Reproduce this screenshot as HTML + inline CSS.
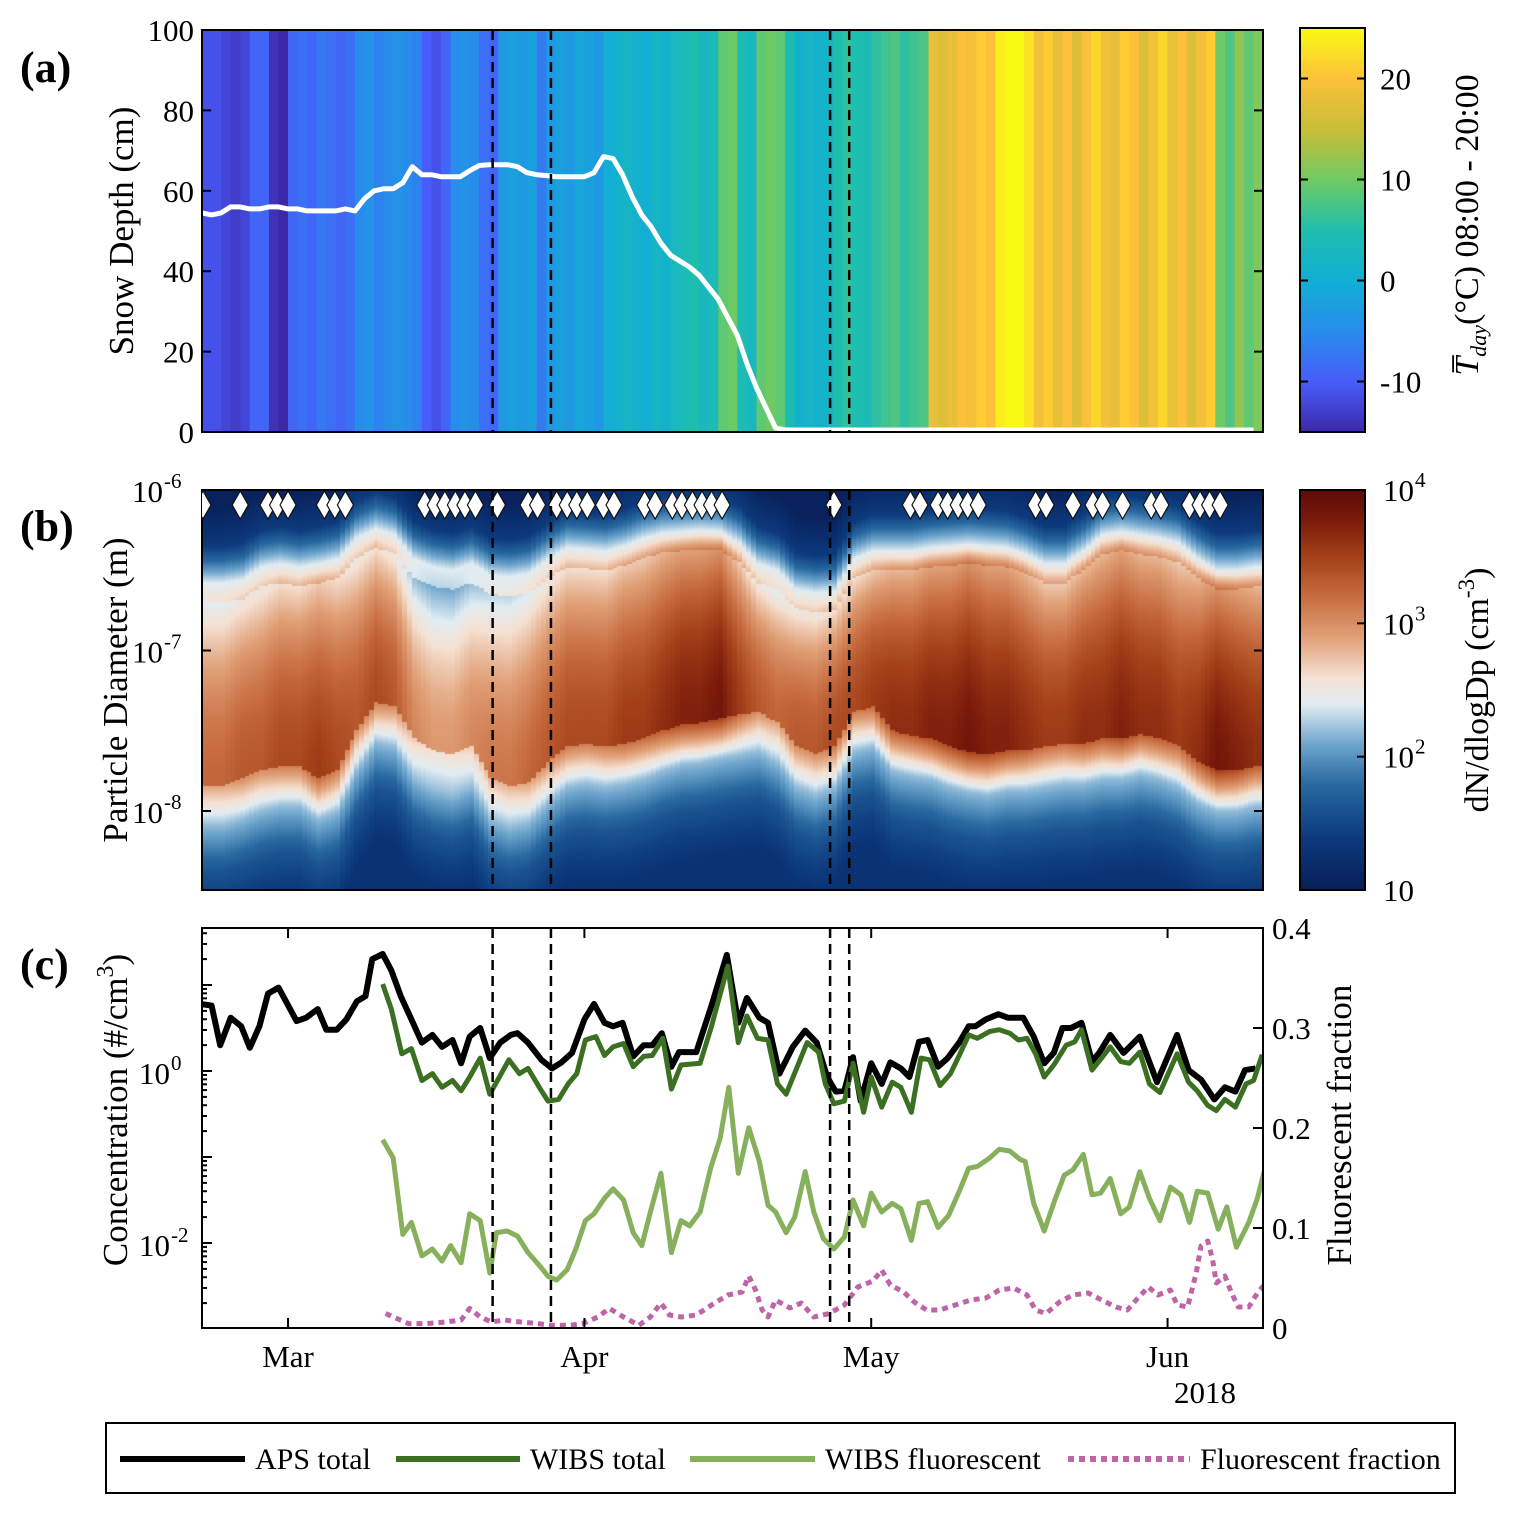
<!DOCTYPE html>
<html><head><meta charset="utf-8">
<style>
html,body{margin:0;padding:0;background:#fff;}
#wrap{position:relative;width:1519px;height:1513px;overflow:hidden;background:#fff;}
#hm{position:absolute;left:202px;top:490px;}
svg{position:absolute;left:0;top:0;}
text{font-family:"Liberation Serif","DejaVu Serif",serif;fill:#000;}
</style></head>
<body>
<div id="wrap">
<canvas id="hm" width="1061" height="400"></canvas>
<svg id="svg" width="1519" height="1513" xmlns="http://www.w3.org/2000/svg">
  <defs>
    <clipPath id="clipA"><rect x="202" y="30" width="1061" height="402"/></clipPath>
    <clipPath id="clipB"><rect x="202" y="490" width="1061" height="400"/></clipPath>
    <clipPath id="clipC"><rect x="202" y="928" width="1061" height="400"/></clipPath>
  </defs>
  <g id="gA"></g>
  <g id="gB"></g>
  <g id="gC"></g>

  <text x="20" y="82" font-size="44" font-weight="bold">(a)</text>
  <text x="20" y="541" font-size="44" font-weight="bold">(b)</text>
  <text x="20" y="979" font-size="44" font-weight="bold">(c)</text>

  <text transform="translate(133,231) rotate(-90)" text-anchor="middle" font-size="35">Snow Depth (cm)</text>
  <text transform="translate(127,690) rotate(-90)" text-anchor="middle" font-size="35">Particle Diameter  (m)</text>
  <text transform="translate(127,1110) rotate(-90)" text-anchor="middle" font-size="35">Concentration (#/cm<tspan dy="-14" font-size="24">3</tspan><tspan dy="14">)</tspan></text>
  <text transform="translate(1351,1125) rotate(-90)" text-anchor="middle" font-size="35">Fluorescent fraction</text>
  <text transform="translate(1478,225) rotate(-90)" text-anchor="middle" font-size="34"><tspan font-style="italic">T&#773;</tspan><tspan font-size="22" font-style="italic" dy="8">day</tspan><tspan dy="-8">(°C) 08:00 - 20:00</tspan></text>
  <text transform="translate(1488,690) rotate(-90)" text-anchor="middle" font-size="34">dN/dlogDp (cm<tspan dy="-14" font-size="23">-3</tspan><tspan dy="14">)</tspan></text>

  <g id="legend">
    <rect x="106" y="1423" width="1349" height="70" fill="#fff" stroke="#000" stroke-width="2"/>
    <line x1="120" y1="1459" x2="245" y2="1459" stroke="#000" stroke-width="6"/>
    <text x="255" y="1469" font-size="30">APS total</text>
    <line x1="396" y1="1459" x2="520" y2="1459" stroke="#3b6f22" stroke-width="6"/>
    <text x="530" y="1469" font-size="30">WIBS total</text>
    <line x1="690" y1="1459" x2="815" y2="1459" stroke="#87b05c" stroke-width="6"/>
    <text x="825" y="1469" font-size="30">WIBS fluorescent</text>
    <line x1="1068" y1="1459" x2="1190" y2="1459" stroke="#c064a8" stroke-width="6" stroke-dasharray="6 5"/>
    <text x="1200" y="1469" font-size="30">Fluorescent fraction</text>
  </g>
</svg>
</div>
<script>
// ---------------- DATA ----------------
// day offsets from 20 Feb 2018
const dailyTemp = [-11,-11,-12,-13,-12,-9,-9,-14,-15,-9,-8,-9,-7,-8,-9,-8,-5,-4,-6,-5,-4,-5,-6,-10,-11,-9,-5,-4,-5,-8,-9,-3,-2,-3,-2,-7,-3,-2,-3,-1,-2,-3,0,1,2,1,0,2,1,3,4,5,3,4,9,10,4,3,9,10,9,4,1,2,1,2,5,6,5,4,6,7,8,6,7,8,18,17,18,20,19,21,20,24,25,25,23,19,21,18,20,17,20,22,19,18,21,20,17,19,22,18,20,17,19,21,10,8,12,9,11];
const snowDepth = [54.5,54,54.5,56,56,55.5,55.5,56,56,55.5,55.5,55,55,55,55,55.5,55,58,60,60.5,60.5,62,66,64,64,63.5,63.5,63.5,65,66.3,66.5,66.5,66.5,66,64.5,64,63.8,63.5,63.5,63.5,63.5,64.5,68.5,68,64,58.5,54,51,47,44,42.5,41,39,36,33,28.5,24,17,11,6,1,0.5,0.5,0.5,0.5,0.5,0.5,0.5,0.5,0.5,0.5,0.5,0.5,0.5,0.5,0.5,0.5,0.5,0.5,0.5,0.5,0.5,0.5,0.5,0.5,0.5,0.5,0.5,0.5,0.5,0.5,0.5,0.5,0.5,0.5,0.5,0.5,0.5,0.5,0.5,0.5,0.5,0.5,0.5,0.5,0.5,0.5,0.5,0.5,0.5,0.5];
const eventDays = [0.1,4,6.9,7.9,9,12.8,13.9,15,23.3,24.4,25.4,26.5,27.5,28.6,30.9,34.1,35.1,37.1,38.2,39.2,40.3,42,43.1,46.3,47.4,49.2,50.2,51.3,52.3,53.3,54.4,66.1,74.1,75.1,77,78,79.1,80.1,81.2,87.2,88.3,91.1,93.2,94.2,96.3,99.3,100.3,103.3,104.4,105.4,106.5];
const markerDays = [30.4,36.5,65.7,67.7];
// size distribution, every 2 days: upper/lower edge of mode (log10 m) and peak log10 dN/dlogDp
const sizeTop = [-6.70,-6.70,-6.68,-6.60,-6.58,-6.60,-6.58,-6.55,-6.42,-6.36,-6.40,-6.55,-6.60,-6.62,-6.58,-6.65,-6.66,-6.64,-6.55,-6.48,-6.49,-6.50,-6.47,-6.42,-6.39,-6.38,-6.37,-6.38,-6.45,-6.58,-6.62,-6.74,-6.76,-6.75,-6.55,-6.50,-6.50,-6.50,-6.48,-6.47,-6.46,-6.47,-6.48,-6.52,-6.58,-6.58,-6.50,-6.40,-6.38,-6.40,-6.42,-6.45,-6.55,-6.62,-6.62,-6.60];
const sizeBot = [-7.84,-7.84,-7.80,-7.75,-7.72,-7.72,-7.80,-7.75,-7.50,-7.32,-7.35,-7.55,-7.62,-7.65,-7.60,-7.80,-7.85,-7.82,-7.70,-7.60,-7.58,-7.60,-7.58,-7.55,-7.50,-7.46,-7.45,-7.42,-7.40,-7.38,-7.45,-7.60,-7.65,-7.60,-7.38,-7.35,-7.50,-7.53,-7.55,-7.60,-7.63,-7.65,-7.62,-7.62,-7.60,-7.58,-7.58,-7.55,-7.55,-7.52,-7.55,-7.60,-7.70,-7.75,-7.75,-7.72];
const sizePeak = [3.2,3.2,3.3,3.3,3.4,3.4,3.5,3.4,3.3,3.4,3.3,3.0,2.9,2.9,3.0,3.1,3.1,3.2,3.3,3.4,3.4,3.4,3.5,3.5,3.6,3.7,3.7,3.8,3.5,3.3,3.2,3.3,3.3,3.4,3.4,3.5,3.6,3.6,3.7,3.7,3.8,3.7,3.7,3.6,3.5,3.5,3.6,3.6,3.7,3.6,3.6,3.5,3.6,3.8,3.7,3.6];
// panel c
const apsDays = [-0.2,1.0,1.9,3.0,4.1,5.0,6.0,6.9,8.0,9.9,10.9,12.1,13.0,14.1,15.1,16.2,17.1,17.8,18.9,19.8,20.8,21.9,23.0,24.1,25.1,26.2,27.1,28.0,29.1,30.1,31.2,32.3,33.0,34.1,35.5,36.6,37.6,38.7,40.0,41.0,42.1,43.0,44.0,45.1,46.2,47.1,48.1,49.1,49.9,51.7,53.3,54.9,56.1,57.0,58.3,59.2,60.4,61.8,63.1,64.3,65.4,66.3,67.2,68.1,68.9,70.0,71.1,72.0,73.1,74.0,75.0,75.9,77.0,78.0,79.2,80.2,80.9,82.0,83.3,84.3,85.9,87.0,88.1,89.1,90.0,90.9,92.0,93.1,93.9,95.0,96.4,98.1,99.9,102.0,103.2,104.5,105.9,107.0,108.1,109.1,110.2];
const apsLog10 = [0.78,0.76,0.30,0.62,0.52,0.27,0.52,0.90,0.97,0.58,0.62,0.72,0.48,0.48,0.60,0.81,0.87,1.30,1.36,1.17,0.87,0.60,0.33,0.42,0.28,0.36,0.09,0.40,0.50,0.15,0.33,0.42,0.44,0.33,0.13,0.03,0.10,0.21,0.60,0.78,0.56,0.52,0.56,0.17,0.30,0.30,0.44,0.05,0.22,0.22,0.76,1.35,0.56,0.85,0.62,0.56,-0.03,0.28,0.47,0.33,-0.07,-0.24,-0.23,0.16,-0.35,0.09,-0.15,0.10,0.03,-0.07,0.34,0.36,0.05,0.15,0.33,0.52,0.52,0.60,0.66,0.62,0.62,0.40,0.09,0.21,0.50,0.50,0.56,0.11,0.22,0.42,0.21,0.40,-0.13,0.42,0.01,-0.10,-0.33,-0.19,-0.24,0.01,0.03];
const wibsDays = [18.9,19.8,20.9,21.9,23.0,24.1,25.1,26.2,27.1,28.0,29.1,30.1,31.2,32.1,33.2,34.1,35.5,36.2,37.3,38.3,39.2,40.1,41.2,42.1,43.0,44.1,45.1,46.2,47.1,48.2,49.1,50.1,52.1,53.3,55.0,56.1,57.0,58.1,59.2,60.2,61.1,63.3,64.5,65.2,66.1,67.2,68.1,69.2,70.0,71.1,72.2,73.1,74.2,75.2,76.1,77.2,78.3,79.2,80.2,81.1,82.4,83.4,84.5,85.4,86.3,87.2,88.1,89.1,90.4,91.3,92.0,93.1,94.1,95.0,96.1,97.0,98.1,99.1,100.2,102.0,103.2,104.1,105.2,106.1,107.0,108.1,109.2,110.0,110.9];
const wibsLog10 = [1.01,0.72,0.20,0.26,-0.11,-0.03,-0.19,-0.11,-0.23,-0.07,0.15,-0.27,-0.05,0.13,-0.03,0.03,-0.23,-0.35,-0.33,-0.15,-0.03,0.36,0.40,0.18,0.28,0.32,0.05,0.17,0.18,0.38,-0.21,0.07,0.09,0.52,1.22,0.33,0.64,0.38,0.36,-0.15,-0.27,0.33,0.22,-0.15,-0.38,-0.35,0.09,-0.48,-0.07,-0.42,-0.13,-0.19,-0.48,0.15,0.13,-0.17,-0.03,0.18,0.42,0.38,0.46,0.48,0.44,0.36,0.38,0.20,-0.07,0.07,0.30,0.34,0.48,0.01,0.15,0.28,0.11,0.09,0.22,-0.15,-0.25,0.20,-0.13,-0.23,-0.40,-0.46,-0.33,-0.42,-0.15,-0.11,0.19];
const fluoDays = [18.9,20.0,21.0,21.9,23.0,24.1,25.1,26.0,27.1,28.0,29.1,30.1,30.8,31.9,33.0,34.1,35.5,36.2,37.1,38.2,39.1,40.1,41.0,42.1,43.0,44.1,45.1,46.0,46.9,48.0,49.1,50.1,51.0,52.1,53.2,54.2,55.1,56.1,57.2,58.3,59.2,60.0,61.1,62.0,63.1,64.0,65.0,66.1,67.2,68.1,69.2,70.0,71.1,72.2,73.1,74.2,75.0,75.9,77.0,78.1,79.2,80.2,81.1,82.4,83.4,84.5,85.6,86.1,87.0,88.1,89.2,90.2,91.1,92.2,93.1,94.0,95.0,96.1,97.0,98.1,99.1,100.2,101.3,102.4,103.3,104.1,105.2,106.3,107.2,108.2,109.5,110.4,111.1];
const fluoLog10 = [-0.80,-1.01,-1.90,-1.76,-2.15,-2.07,-2.21,-2.03,-2.23,-1.66,-1.74,-2.35,-1.88,-1.86,-1.92,-2.11,-2.29,-2.39,-2.43,-2.31,-2.07,-1.74,-1.66,-1.48,-1.37,-1.50,-1.88,-2.03,-1.64,-1.19,-2.11,-1.74,-1.80,-1.64,-1.13,-0.78,-0.19,-1.19,-0.66,-1.05,-1.56,-1.64,-1.88,-1.70,-1.17,-1.64,-1.95,-2.07,-1.93,-1.50,-1.80,-1.42,-1.64,-1.54,-1.60,-1.97,-1.54,-1.52,-1.82,-1.68,-1.40,-1.13,-1.11,-1.01,-0.91,-0.93,-1.03,-1.05,-1.54,-1.86,-1.50,-1.21,-1.15,-0.97,-1.44,-1.42,-1.25,-1.66,-1.58,-1.17,-1.48,-1.74,-1.35,-1.44,-1.76,-1.40,-1.42,-1.84,-1.58,-2.05,-1.76,-1.48,-1.17];
const fracDays = [19.2,21.6,23.4,25.5,27.1,28.0,29.1,30.3,31.6,33.3,35.1,36.6,38.4,39.8,41.4,42.6,44.1,45.7,46.9,48.0,48.9,50.1,51.7,53.3,55.0,56.5,57.2,57.9,58.6,59.2,60.0,61.5,62.7,64.0,65.6,67.2,68.6,70.2,71.1,72.0,73.4,74.5,75.8,77.2,78.8,80.4,82.0,83.4,84.9,86.3,87.2,88.3,89.7,91.1,92.7,94.1,95.6,96.8,97.9,99.0,100.0,101.3,102.0,103.1,104.0,104.5,105.2,105.7,106.1,107.0,107.7,108.4,109.5,110.4,111.1];
const fracValues = [0.0145,0.0044,0.0044,0.006,0.008,0.0196,0.011,0.006,0.008,0.006,0.0044,0.0027,0.0027,0.0044,0.011,0.0196,0.011,0.0027,0.011,0.025,0.013,0.011,0.013,0.023,0.033,0.036,0.052,0.038,0.018,0.011,0.028,0.020,0.025,0.011,0.0145,0.023,0.041,0.047,0.058,0.043,0.036,0.026,0.018,0.018,0.023,0.028,0.030,0.038,0.040,0.033,0.018,0.0145,0.026,0.033,0.035,0.028,0.021,0.018,0.030,0.041,0.033,0.038,0.023,0.021,0.055,0.082,0.087,0.069,0.045,0.052,0.035,0.021,0.021,0.035,0.043];
const monthTicks = [9, 40, 70, 101];
const monthLabels = ["Mar","Apr","May","Jun"];
const snowTicks = [0,20,40,60,80,100];
const tempTicks = [-10,0,10,20];
const diamTicks = [-6,-7,-8];
const concTicks = [0,-2];
const fracTicks = [0,0.1,0.2,0.3,0.4];
const dnTicks = [1,2,3,4];

// ---------------- SCALES ----------------
const X = d => 202 + d*9.56;
const Ya = v => 432 - v*4.02;
const Yb = l => 490 + (-6 - l)*160.5;
const Yc = l => 1071 - l*86;
const Yr = f => 1328 - f*1000;
const NS = "http://www.w3.org/2000/svg";
function mk(tag, attrs, parent){ const e=document.createElementNS(NS,tag); for(const k in attrs) e.setAttribute(k,attrs[k]); parent.appendChild(e); return e; }

function lerpColor(stops, t){
  if(t<=stops[0][0]) return stops[0][1];
  for(let i=1;i<stops.length;i++){
    if(t<=stops[i][0]){ const a=stops[i-1], b=stops[i]; const u=(t-a[0])/(b[0]-a[0]);
      return [0,1,2].map(k=>Math.round(a[1][k]+(b[1][k]-a[1][k])*u)); }
  }
  return stops[stops.length-1][1];
}
const parula = [[0,[62,38,168]],[0.125,[71,92,250]],[0.25,[40,140,236]],[0.375,[18,174,212]],[0.5,[30,190,175]],[0.625,[110,202,100]],[0.75,[200,190,55]],[0.875,[253,192,58]],[1,[249,250,20]]];
const balance = [[1.0,[8,30,88]],[1.4,[12,58,125]],[1.8,[40,105,160]],[2.1,[110,165,205]],[2.4,[225,236,242]],[2.6,[245,225,210]],[2.9,[225,160,120]],[3.2,[200,110,65]],[3.5,[165,65,25]],[3.8,[120,25,10]],[4.0,[95,10,10]]];
const rgb = c => `rgb(${c[0]},${c[1]},${c[2]})`;
const tColor = T => rgb(lerpColor(parula,(T+15)/40));

// ---------------- PANEL A ----------------
const gA = document.getElementById('gA');
const stripes = mk('g',{'clip-path':'url(#clipA)'},gA);


dailyTemp.forEach((T,i)=>{
  const r = mk('rect',{x:X(i).toFixed(2),y:30,width:(9.56+0.6).toFixed(2),height:402,fill:tColor(T)},stripes);
  
  
});
let sp = snowDepth.map((v,i)=>`${X(i).toFixed(1)},${Ya(v).toFixed(1)}`).join(' ');
const snowLine = mk('polyline',{points:sp,fill:'none',stroke:'#fff','stroke-width':5,'stroke-linejoin':'round','clip-path':'url(#clipA)'},gA);


mk('rect',{x:202,y:30,width:1061,height:402,fill:'none',stroke:'#000','stroke-width':2},gA);
snowTicks.forEach(v=>{
  const y=Ya(v);
  mk('line',{x1:202,y1:y,x2:211,y2:y,stroke:'#000','stroke-width':2},gA);
  mk('line',{x1:1254,y1:y,x2:1263,y2:y,stroke:'#000','stroke-width':2},gA);
  const t=mk('text',{x:194,y:y+11,'text-anchor':'end','font-size':31},gA); t.textContent=v;
  
  
});
// colorbar a
const cbA = mk('g',{},gA);


for(let y=28;y<432;y+=2){ const T=25-(y-28)/404*40; mk('rect',{x:1300,y:y,width:65,height:2.5,fill:tColor(T)},cbA); }
mk('rect',{x:1300,y:28,width:65,height:404,fill:'none',stroke:'#000','stroke-width':2},cbA);
tempTicks.forEach(T=>{
  const y=28+(25-T)/40*404;
  mk('line',{x1:1357,y1:y,x2:1365,y2:y,stroke:'#000','stroke-width':2},cbA);
  mk('line',{x1:1300,y1:y,x2:1308,y2:y,stroke:'#000','stroke-width':2},cbA);
  const t=mk('text',{x:1380,y:y+11,'font-size':31},cbA); t.textContent=T;
  
  
});

// ---------------- PANEL B ----------------
const cv = document.getElementById('hm'); const ctx = cv.getContext('2d');
function sizeAt(arr, d){ const k=d/2; const i=Math.min(arr.length-2,Math.max(0,Math.floor(k))); const u=Math.min(1,Math.max(0,k-i)); return arr[i]+(arr[i+1]-arr[i])*u; }
function cellVal(l, top, bot, pk){
  if(l>=top){ const u=l-top; if(u<0.12) return (pk-0.6)+(2.4-(pk-0.6))*u/0.12; if(u<0.35) return 2.4-(u-0.12)/0.23*1.0; return Math.max(1.05,1.4-(u-0.35)*1.5); }
  if(l>=bot){ const pos=(l-bot)/(top-bot); return pk-0.8*pos*pos+0.05*(1-pos); }
  const u=bot-l; if(u<0.25) return (pk-0.3)+(2.2-(pk-0.3))*u/0.25; if(u<0.55) return 2.2-(u-0.25)/0.3*0.6; return Math.max(1.3,1.6-(u-0.55)*1.0);
}
for(let j=0;j<222;j++){
  const d=j*0.5; const top=sizeAt(sizeTop,d), bot=sizeAt(sizeBot,d), pk=sizeAt(sizePeak,d);
  const x0=X(d)-202;
  for(let py=0;py<400;py+=2){
    const l=-6-(py+1)/160.5;
    ctx.fillStyle=rgb(lerpColor(balance,cellVal(l,top,bot,pk)));
    ctx.fillRect(Math.floor(x0),py,6,2);
  }
}
const gB = document.getElementById('gB');
mk('rect',{x:202,y:490,width:1061,height:400,fill:'none',stroke:'#000','stroke-width':2},gB);
eventDays.forEach(d=>{
  const x=X(d);
  const p=mk('polygon',{points:`${x},491 ${x+8},505 ${x},519 ${x-8},505`,fill:'#fff',stroke:'#111','stroke-width':1.2,'clip-path':'url(#clipB)'},gB);
  
  
});
diamTicks.forEach(l=>{
  const y=Yb(l);
  mk('line',{x1:202,y1:y,x2:211,y2:y,stroke:'#000','stroke-width':2},gB);
  mk('line',{x1:1254,y1:y,x2:1263,y2:y,stroke:'#000','stroke-width':2},gB);
  const t=mk('text',{x:163,y:y+12,'text-anchor':'end','font-size':31},gB);
  t.textContent='10';
  
  
  const s=mk('text',{x:164,y:y-2,'font-size':21},gB); s.textContent=String(l);
  
  
});
// colorbar b
const cbB = mk('g',{},gB);


for(let y=490;y<890;y+=2){ const v=4-(y-490)/400*3; mk('rect',{x:1300,y:y,width:65,height:2.5,fill:rgb(lerpColor(balance,v))},cbB); }
mk('rect',{x:1300,y:490,width:65,height:400,fill:'none',stroke:'#000','stroke-width':2},cbB);
dnTicks.forEach(v=>{
  const y=490+(4-v)/3*400;
  mk('line',{x1:1357,y1:y,x2:1365,y2:y,stroke:'#000','stroke-width':2},cbB);
  const t=mk('text',{x:1383,y:Math.min(y+11,902),'font-size':31},cbB); t.textContent='10';
  
  
  if(v>1){ const s=mk('text',{x:1415,y:Math.min(y+11,902)-14,'font-size':21},cbB); s.textContent=String(v);
    
     }
});

// ---------------- PANEL C ----------------
const gC = document.getElementById('gC');
const series = mk('g',{'clip-path':'url(#clipC)'},gC);


function poly(days, vals, yf, attrs, name){
  const pts = days.map((d,i)=>`${X(d).toFixed(1)},${yf(vals[i]).toFixed(1)}`).join(' ');
  const p = mk('polyline',Object.assign({points:pts,fill:'none','stroke-linejoin':'round'},attrs),series);
  
  
}
poly(fracDays, fracValues, Yr, {stroke:'#c064a8','stroke-width':5,'stroke-dasharray':'6 5'}, 'fluorescent-fraction-line');
poly(fluoDays, fluoLog10, Yc, {stroke:'#87b05c','stroke-width':5}, 'wibs-fluorescent-line');
poly(apsDays, apsLog10, Yc, {stroke:'#000','stroke-width':6}, 'aps-total-line');
poly(wibsDays, wibsLog10, Yc, {stroke:'#3b6f22','stroke-width':5}, 'wibs-total-line');
mk('rect',{x:202,y:928,width:1061,height:400,fill:'none',stroke:'#000','stroke-width':2},gC);
for(let dec=-3; dec<=1; dec++){
  for(let k=1;k<=9;k++){
    const l=dec+Math.log10(k); const y=Yc(l); if(y<928||y>1328) continue;
    const len = k===1?10:5;
    mk('line',{x1:202,y1:y,x2:202+len,y2:y,stroke:'#000','stroke-width':2},gC);
  }
}
concTicks.forEach(l=>{
  const y=Yc(l);
  const t=mk('text',{x:170,y:y+13,'text-anchor':'end','font-size':31},gC); t.textContent='10';
  
  
  const s=mk('text',{x:171,y:y-1,'font-size':21},gC); s.textContent=String(l);
  
  
});
fracTicks.forEach(f=>{
  const y=Yr(f);
  mk('line',{x1:1253,y1:y,x2:1263,y2:y,stroke:'#000','stroke-width':2},gC);
  const t=mk('text',{x:1272,y:y+11,'font-size':31},gC); t.textContent=String(f);
  
  
});
monthTicks.forEach((d,i)=>{
  const x=X(d);
  mk('line',{x1:x,y1:928,x2:x,y2:938,stroke:'#000','stroke-width':2},gC);
  mk('line',{x1:x,y1:1318,x2:x,y2:1328,stroke:'#000','stroke-width':2},gC);
  const t=mk('text',{x:x,y:1367,'text-anchor':'middle','font-size':31},gC); t.textContent=monthLabels[i];
  
  
});
const yr=mk('text',{x:1205,y:1403,'text-anchor':'middle','font-size':31},gC); yr.textContent='2018';



// ---------------- MARKER DASHED LINES ----------------
[[gA,30,432],[gB,490,890],[gC,928,1328]].forEach(([g,y1,y2])=>{
  markerDays.forEach(d=>{
    const l=mk('line',{x1:X(d),y1:y1,x2:X(d),y2:y2,stroke:'#000','stroke-width':2.5,'stroke-dasharray':'10 6'},g);
    
    
  });
});
</script>
</body></html>
